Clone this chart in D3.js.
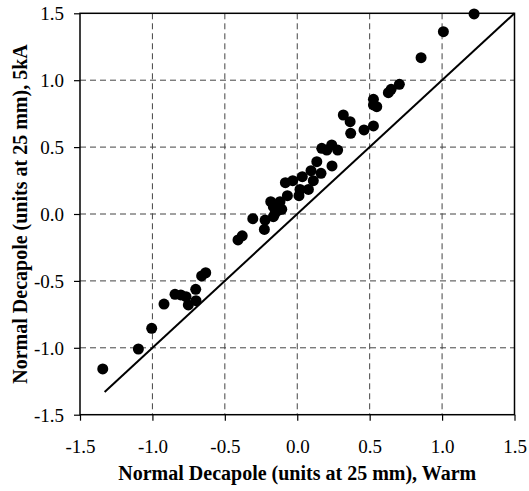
<!DOCTYPE html>
<html><head><meta charset="utf-8">
<script src="https://cdn.jsdelivr.net/npm/d3@7"></script>
<style>body{margin:0;background:#fff}svg{display:block}</style>
</head><body>
<svg id="c" width="529" height="491"></svg>
<script>
const warm = [1.221,1.009,0.855,0.705,0.648,0.629,0.526,0.526,0.549,0.526,0.461,0.369,0.318,0.365,
  0.169,0.204,0.238,0.279,0.135,0.240,0.095,0.164,0.111,0.035,-0.031,-0.082,0.019,0.077,0.012,-0.068,
  -0.119,-0.183,-0.165,-0.130,-0.107,-0.153,-0.165,-0.307,-0.222,-0.227,-0.380,-0.409,
  -0.632,-0.660,-0.701,-0.699,-0.752,-0.768,-0.804,-0.844,-0.920,-1.005,-1.097,-1.343];
const cold5kA = [1.495,1.363,1.168,0.969,0.932,0.907,0.857,0.815,0.802,0.658,0.628,0.603,0.740,0.690,
  0.491,0.478,0.516,0.478,0.391,0.359,0.324,0.304,0.249,0.279,0.249,0.234,0.184,0.184,0.137,0.137,
  0.092,0.092,0.055,0.030,0.035,0.005,-0.020,-0.035,-0.045,-0.115,-0.163,-0.194,
  -0.439,-0.463,-0.563,-0.648,-0.680,-0.618,-0.605,-0.600,-0.673,-0.854,-1.009,-1.158];
const lineX = [-1.33, 1.5];           // y = x reference line
const ticks = [-1.5,-1.0,-0.5,0.0,0.5,1.0,1.5];
const tickLabels = ["-1.5","-1.0","-0.5","0.0","0.5","1.0","1.5"];
const xTitle = "Normal Decapole (units at 25 mm), Warm";
const yTitle = "Normal Decapole (units at 25 mm), 5kA";

const svg = d3.select("#c");
const L=80, R=514.5, T=13.3, B=414.7;
const x = d3.scaleLinear().domain([-1.5,1.5]).range([L,R]);
const y = d3.scaleLinear().domain([-1.5,1.5]).range([B,T]);
const font = "'Liberation Serif','Times New Roman',serif";

// grid
const g = svg.append("g");
g.selectAll("line.gx").data(ticks.slice(1,-1)).join("line")
  .attr("x1",d=>x(d)).attr("x2",d=>x(d)).attr("y1",T).attr("y2",B)
  .attr("stroke","#444").attr("stroke-width",1).attr("stroke-dasharray","6,4");
g.selectAll("line.gy").data(ticks.slice(1,-1)).join("line")
  .attr("y1",d=>y(d)).attr("y2",d=>y(d)).attr("x1",L).attr("x2",R)
  .attr("stroke","#444").attr("stroke-width",1).attr("stroke-dasharray","6,4");

// frame
svg.append("rect").attr("x",L).attr("y",T).attr("width",R-L).attr("height",B-T)
  .attr("fill","none").attr("stroke","#000").attr("stroke-width",1.5);

// axes
const fmt = (d,i)=>tickLabels[i];
const xa = svg.append("g").attr("transform",`translate(0,${B})`)
  .call(d3.axisBottom(x).tickValues(ticks).tickFormat(fmt).tickSize(6).tickSizeOuter(0));
const ya = svg.append("g").attr("transform",`translate(${L},0)`)
  .call(d3.axisLeft(y).tickValues(ticks).tickFormat(fmt).tickSize(6).tickSizeOuter(0));
[xa,ya].forEach(a=>{
  a.select(".domain").remove();
  a.selectAll(".tick line").attr("stroke","#000").attr("stroke-width",1.2);
  a.selectAll("text").attr("font-family",font).attr("font-size",19).attr("fill","#000");
});
xa.selectAll("text").attr("dy",0).attr("y",38);
ya.selectAll("text").attr("x",-16).attr("dy","0.34em");

// y=x line
svg.append("path").datum(lineX)
  .attr("d",d3.line().x(d=>x(d)).y(d=>y(d)))
  .attr("stroke","#000").attr("stroke-width",2).attr("fill","none");

// points
svg.append("g").selectAll("circle").data(warm.map((w,i)=>[w,cold5kA[i]])).join("circle")
  .attr("cx",d=>x(d[0])).attr("cy",d=>y(d[1])).attr("r",5.5).attr("fill","#000");

// titles
svg.append("text").attr("x",(L+R)/2).attr("y",480).attr("text-anchor","middle")
  .attr("font-family",font).attr("font-weight","bold").attr("font-size",20).text(xTitle);
svg.append("text").attr("transform",`translate(27,${(T+B)/2}) rotate(-90)`).attr("text-anchor","middle")
  .attr("font-family",font).attr("font-weight","bold").attr("font-size",20).text(yTitle);
</script>
</body></html>
